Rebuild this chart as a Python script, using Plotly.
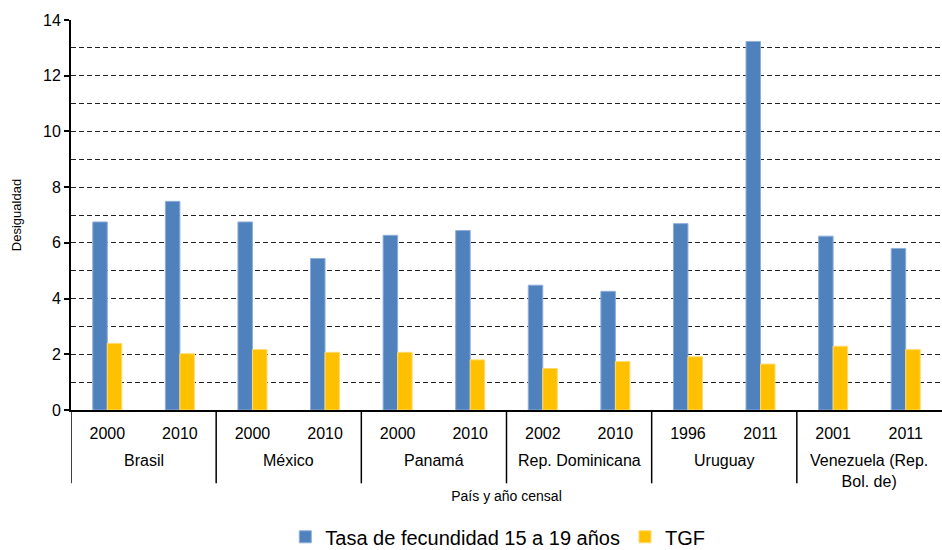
import plotly.graph_objects as go

# Countries, their census years and the inequality ratios per census
country_names = ["Brasil", "México", "Panamá", "Rep. Dominicana", "Uruguay",
                 "Venezuela (Rep.<br>Bol. de)"]
years = ["2000", "2010", "2000", "2010", "2000", "2010",
         "2002", "2010", "1996", "2011", "2001", "2011"]
tasa_15_19 = [6.75, 7.49, 6.75, 5.44, 6.27, 6.44, 4.48, 4.26, 6.69, 13.23, 6.24, 5.80]
tgf = [2.39, 2.02, 2.17, 2.07, 2.07, 1.80, 1.49, 1.74, 1.91, 1.65, 2.29, 2.17]

y_ticks = [0, 2, 4, 6, 8, 10, 12, 14]

font_family = "Liberation Sans, Arial, sans-serif"
positions = list(range(len(years)))
per_country = len(years) // len(country_names)

fig = go.Figure()
fig.add_trace(go.Bar(
    x=positions, y=tasa_15_19,
    name="Tasa de fecundidad 15 a 19 años",
    marker=dict(color="#4F81BD", line=dict(color="#8EAEDB", width=1)),
))
fig.add_trace(go.Bar(
    x=positions, y=tgf,
    name="TGF",
    marker=dict(color="#FFC000", line=dict(color="#FFDB70", width=1)),
))

# Country labels under the years, with separators between countries
for i, name in enumerate(country_names):
    center = i * per_country + (per_country - 1) / 2
    fig.add_annotation(
        x=center, xref="x", y=-0.102, yref="paper", yanchor="top",
        text=name, showarrow=False, font=dict(size=16), align="center",
    )
for i in range(len(country_names)):
    edge = i * per_country - 0.5
    fig.add_shape(
        type="line", xref="x", yref="paper",
        x0=edge, x1=edge, y0=0, y1=-0.188,
        line=dict(color="black", width=1.5),
    )

fig.update_layout(
    width=942, height=550,
    margin=dict(l=71, r=0, t=20, b=140, autoexpand=False),
    plot_bgcolor="white", paper_bgcolor="white",
    font=dict(family=font_family, color="black", size=16),
    barmode="group", bargap=0.6, bargroupgap=0,
    showlegend=True,
    legend=dict(orientation="h", x=0.49, xanchor="center",
                yref="container", y=0.024, yanchor="middle",
                font=dict(size=20), itemwidth=30, tracegroupgap=0),
)

fig.update_xaxes(
    range=[-0.5, len(years) - 0.5],
    tickvals=positions, ticktext=years,
    showline=True, linecolor="black", linewidth=2,
    showgrid=False, zeroline=False,
    ticks="", tickfont=dict(size=16),
    ticklabelstandoff=8,
    automargin=False,
    title=dict(text="País y año censal", font=dict(size=14), standoff=50),
)

fig.update_yaxes(
    range=[0, 14],
    tickvals=y_ticks,
    showline=True, linecolor="black", linewidth=2,
    ticks="outside", ticklen=5, tickcolor="black", tickwidth=1.5,
    tickfont=dict(size=16),
    showgrid=True, gridcolor="#222", gridwidth=1.2, griddash="5px,3px",
    minor=dict(dtick=1, showgrid=True, gridcolor="#222", gridwidth=1.2,
               griddash="5px,3px", ticks=""),
    zeroline=False, automargin=False,
    title=dict(text="Desigualdad", font=dict(size=13), standoff=18),
)

fig.write_html("out.html")
